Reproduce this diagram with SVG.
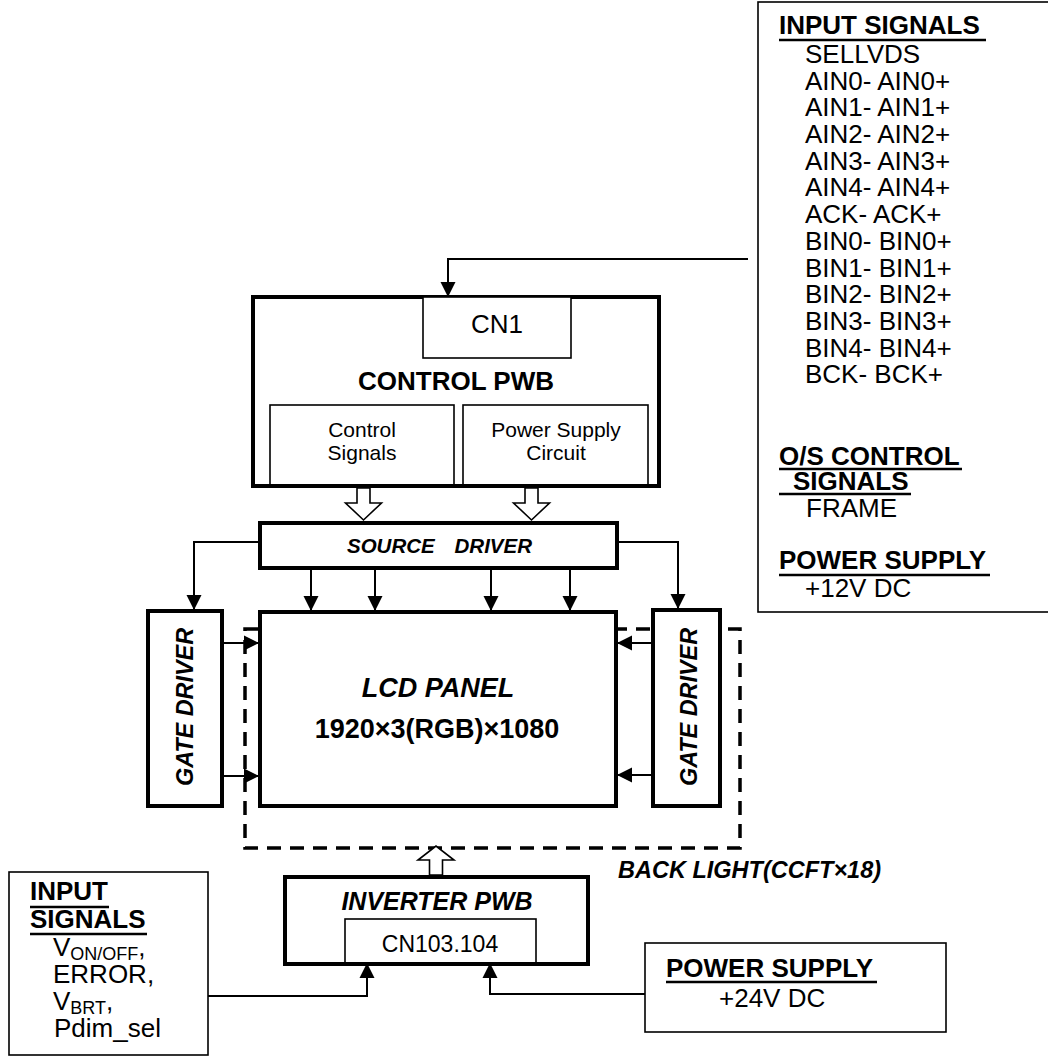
<svg xmlns="http://www.w3.org/2000/svg" width="1048" height="1057" viewBox="0 0 1048 1057">
<style>
.t{font-family:"Liberation Sans",Arial,Helvetica,sans-serif;font-size:26px;fill:#000}
.b{font-weight:bold}
.i{font-style:italic}
.thick{fill:#fff;stroke:#000;stroke-width:4}
.thin{fill:#fff;stroke:#000;stroke-width:1.6}
.ln{fill:none;stroke:#000;stroke-width:2}
.ul{stroke:#000;stroke-width:2.5}
.hollow{fill:#fff;stroke:#000;stroke-width:1.6}
</style>
<defs>
<marker id="ah" markerUnits="userSpaceOnUse" markerWidth="16" markerHeight="16" refX="15" refY="8" orient="auto">
<path d="M0,0.5 L15,8 L0,15.5 z" fill="#000"/>
</marker>
</defs>
<rect width="1048" height="1057" fill="#fff"/>

<g id="backlight">
<rect x="245" y="629" width="495" height="219" fill="none" stroke="#000" stroke-width="3.5" stroke-dasharray="14 9"/>
<text class="t b i" x="618" y="878" style="font-size:23.5px">BACK LIGHT(CCFT×18)</text>
</g>

<g id="input-signals-right">
<rect x="758" y="2" width="310" height="610" class="thin"/>
<text class="t b" x="779" y="34">INPUT SIGNALS</text>
<line class="ul" x1="779" y1="40" x2="986" y2="40"/>
<text class="t" x="805" y="63">SELLVDS</text>
<text class="t" x="805" y="90">AIN0- AIN0+</text>
<text class="t" x="805" y="116">AIN1- AIN1+</text>
<text class="t" x="805" y="143">AIN2- AIN2+</text>
<text class="t" x="805" y="170">AIN3- AIN3+</text>
<text class="t" x="805" y="196">AIN4- AIN4+</text>
<text class="t" x="805" y="223">ACK- ACK+</text>
<text class="t" x="805" y="250">BIN0- BIN0+</text>
<text class="t" x="805" y="277">BIN1- BIN1+</text>
<text class="t" x="805" y="303">BIN2- BIN2+</text>
<text class="t" x="805" y="330">BIN3- BIN3+</text>
<text class="t" x="805" y="357">BIN4- BIN4+</text>
<text class="t" x="805" y="383">BCK- BCK+</text>
<text class="t b" x="779" y="465">O/S CONTROL</text>
<line class="ul" x1="779" y1="469" x2="962" y2="469"/>
<text class="t b" x="793" y="490">SIGNALS</text>
<line class="ul" x1="779" y1="494" x2="911" y2="494"/>
<text class="t" x="806" y="517">FRAME</text>
<text class="t b" x="779" y="569">POWER SUPPLY</text>
<line class="ul" x1="779" y1="575" x2="990" y2="575"/>
<text class="t" x="805" y="597">+12V DC</text>
</g>

<g id="control-pwb">
<rect x="253" y="297" width="406" height="189" class="thick"/>
<rect x="423" y="297" width="148" height="61" class="thin"/>
<text class="t" x="497" y="333" text-anchor="middle">CN1</text>
<text class="t b" x="456" y="390" text-anchor="middle">CONTROL PWB</text>
<rect x="270" y="405" width="184" height="81" class="thin"/>
<text class="t" x="362" y="437" text-anchor="middle" style="font-size:21px">Control</text>
<text class="t" x="362" y="460" text-anchor="middle" style="font-size:21px">Signals</text>
<rect x="463" y="405" width="185" height="81" class="thin"/>
<text class="t" x="556" y="437" text-anchor="middle" style="font-size:21px">Power Supply</text>
<text class="t" x="556" y="460" text-anchor="middle" style="font-size:21px">Circuit</text>
<line x1="253" y1="486" x2="659" y2="486" stroke="#000" stroke-width="4"/>
</g>

<g id="source-driver">
<rect x="260" y="523" width="357" height="45" class="thick"/>
<text class="t b i" x="347" y="553" style="font-size:20.5px">SOURCE</text>
<text class="t b i" x="532" y="553" text-anchor="end" style="font-size:20.5px">DRIVER</text>
</g>

<g id="lcd-panel">
<rect x="260" y="612" width="356" height="194" class="thick"/>
<text class="t b i" x="438" y="697" text-anchor="middle" style="font-size:27px">LCD PANEL</text>
<text class="t b" x="437" y="738" text-anchor="middle" style="font-size:27px">1920×3(RGB)×1080</text>
</g>

<g id="gate-driver-left">
<rect x="148" y="611" width="74" height="195" class="thick"/>
<text class="t b i" transform="translate(193,707) rotate(-90)" text-anchor="middle" style="font-size:23.4px">GATE DRIVER</text>
</g>

<g id="gate-driver-right">
<rect x="653" y="610" width="67" height="196" class="thick"/>
<text class="t b i" transform="translate(697,707) rotate(-90)" text-anchor="middle" style="font-size:23.4px">GATE DRIVER</text>
</g>

<g id="inverter-pwb">
<rect x="285" y="877" width="303" height="87" class="thick"/>
<text class="t b i" x="437" y="910" text-anchor="middle" style="font-size:25px">INVERTER PWB</text>
<rect x="345" y="919" width="191" height="45" class="thin"/>
<text class="t" x="440" y="952" text-anchor="middle" style="font-size:23px">CN103.104</text>
<line x1="285" y1="964" x2="588" y2="964" stroke="#000" stroke-width="4"/>
</g>

<g id="input-signals-left">
<rect x="9" y="872" width="199" height="183" class="thin"/>
<text class="t b" x="30" y="900">INPUT</text>
<line class="ul" x1="30" y1="907" x2="109" y2="907"/>
<text class="t b" x="30" y="928">SIGNALS</text>
<line class="ul" x1="30" y1="934" x2="147" y2="934"/>
<text class="t" x="53" y="956">V<tspan dy="4" style="font-size:18px">ON/OFF</tspan><tspan dy="-4">,</tspan></text>
<text class="t" x="53" y="983">ERROR,</text>
<text class="t" x="53" y="1010">V<tspan dy="4" style="font-size:18px">BRT</tspan><tspan dy="-4">,</tspan></text>
<text class="t" x="54" y="1037">Pdim_sel</text>
</g>

<g id="power-supply-24v">
<rect x="645" y="943" width="301" height="89" class="thin"/>
<text class="t b" x="666" y="977">POWER SUPPLY</text>
<line class="ul" x1="666" y1="982" x2="877" y2="982"/>
<text class="t" x="719" y="1007">+24V DC</text>
</g>

<g id="connectors">
<polyline class="ln" points="748,259 448,259 448,297" marker-end="url(#ah)"/>
<polyline class="ln" points="260,542 194,542 194,610" marker-end="url(#ah)"/>
<polyline class="ln" points="617,542 678,542 678,609" marker-end="url(#ah)"/>
<line class="ln" x1="311" y1="568" x2="311" y2="611" marker-end="url(#ah)"/>
<line class="ln" x1="375" y1="568" x2="375" y2="611" marker-end="url(#ah)"/>
<line class="ln" x1="491" y1="568" x2="491" y2="611" marker-end="url(#ah)"/>
<line class="ln" x1="570" y1="568" x2="570" y2="611" marker-end="url(#ah)"/>
<line class="ln" x1="222" y1="643" x2="259" y2="643" marker-end="url(#ah)"/>
<line class="ln" x1="222" y1="776" x2="259" y2="776" marker-end="url(#ah)"/>
<line class="ln" x1="653" y1="643" x2="617" y2="643" marker-end="url(#ah)"/>
<line class="ln" x1="653" y1="775" x2="617" y2="775" marker-end="url(#ah)"/>
<polyline class="ln" points="208,996 367,996 367,963" marker-end="url(#ah)"/>
<polyline class="ln" points="645,994 490,994 490,963" marker-end="url(#ah)"/>
<polygon class="hollow" points="357,488 370,488 370,503 381.5,503 363.5,520 345.5,503 357,503"/>
<polygon class="hollow" points="525,488 538,488 538,503 549.5,503 531.5,520 513.5,503 525,503"/>
<polygon class="hollow" points="429.5,875 442.5,875 442.5,860 454,860 436,846 418,860 429.5,860"/>
</g>
</svg>
